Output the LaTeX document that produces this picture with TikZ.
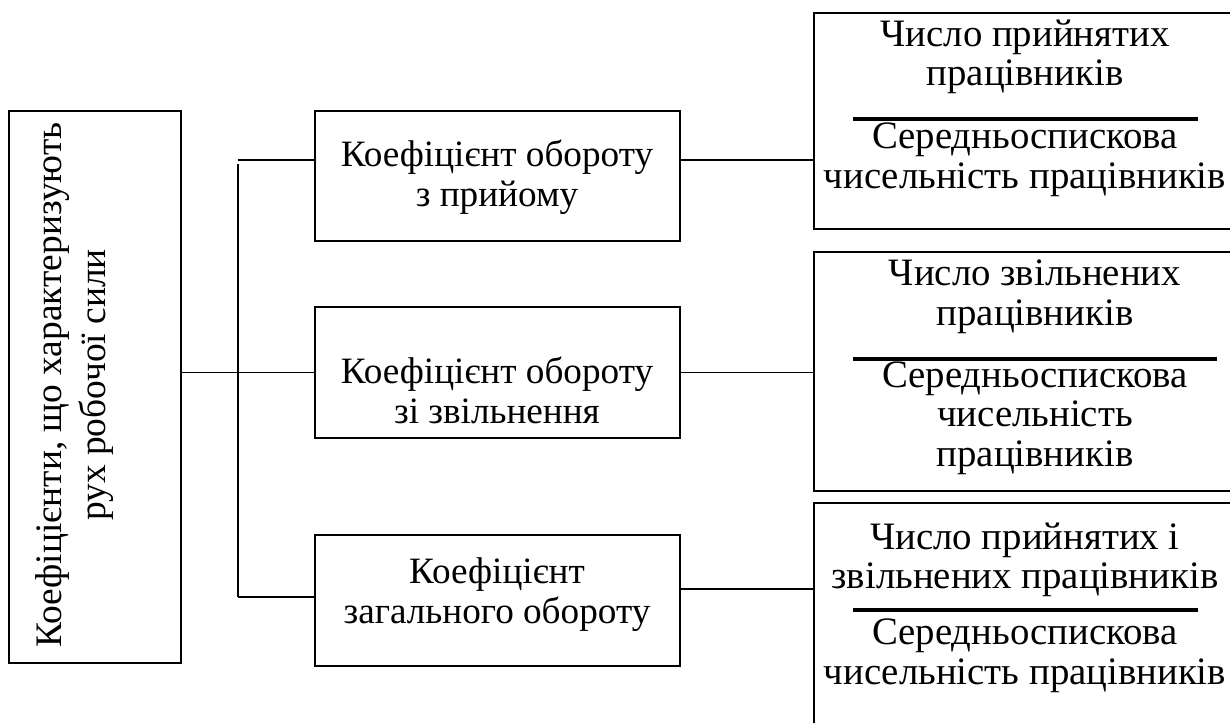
\documentclass[tikz,border=0pt]{standalone}
\usepackage{fontspec}
\setmainfont{Liberation Serif}
\usepackage{tikz}
\usetikzlibrary{positioning}
\tikzset{ box/.style = {rectangle, draw, line width=1pt, inner sep=0pt, anchor=north west} }
\tikzset{ txt/.style = {align=center, inner sep=0pt, font=\fontsize{19.4}{19.8}\selectfont} }
\tikzset{ midtxt/.style = {txt, font=\fontsize{18.6}{20}\selectfont} }
\tikzset{ link/.style = {line width=0.8pt} }
\tikzset{ ratio/.style = {line width=2pt} }

\begin{document}
\begin{tikzpicture}[x=0.5pt, y=-0.5pt]
        \useasboundingbox (0,0) rectangle (1230,722);
        \clip (0,0) rectangle (1230,722);
                % boxes
                \node [box, minimum width=86pt, minimum height=276pt] (lead) at (8,110) {};
                \node [box, minimum width=182.5pt, minimum height=65pt] (k1) at (314,110) {};
                \node [box, minimum width=182.5pt, minimum height=65.5pt] (k2) at (314,306) {};
                \node [box, minimum width=182.5pt, minimum height=65.5pt] (k3) at (314,534) {};
                \node [box, minimum width=218.5pt, minimum height=108pt] (r1) at (813,12) {};
                \node [box, minimum width=218.5pt, minimum height=119.5pt] (r2) at (813,251) {};
                \node [box, minimum width=218.5pt, minimum height=129pt] (r3) at (813,502) {};
                % texts
                \node [txt, rotate=90, font=\fontsize{18.7}{22}\selectfont] (leadtext) at (75,385) {Коефіцієнти, що характеризують\\рух робочої сили};
                \node [midtxt] (k1text) at (497,177) {Коефіцієнт обороту\\з прийому};
                \node [midtxt] (k2text) at (497,390) {Коефіцієнт обороту\\зі звільнення};
                \node [midtxt] (k3text) at (497,595) {Коефіцієнт\\загального обороту};
                \node [txt] (r1num) at (1025,57) {Число прийнятих\\працівників};
                \node [txt] (r1den) at (1025,160) {Середньоспискова\\чисельність працівників};
                \node [txt] (r2num) at (1035,297) {Число звільнених\\працівників};
                \node [txt] (r2den) at (1035,418) {Середньоспискова\\чисельність\\працівників};
                \node [txt] (r3num) at (1025,560) {Число прийнятих і\\звільнених працівників};
                \node [txt] (r3den) at (1025,656) {Середньоспискова\\чисельність працівників};
                \draw[ratio] (853,119) -- (1198,119);
                \draw[ratio] (853,359) -- (1217,359);
                \draw[ratio] (853,610) -- (1198,610);
                % connectors
                \coordinate (j1) at (238,160);
                \coordinate (j0) at (238,164);
                \coordinate (j3) at (238,597);
                \coordinate (s3) at (680,589);
                \draw[link] (lead.east |- k2.west) -- (k2.west);
                \draw[link] (j0) -- (j3);
                \draw[link] (j1) -- (j1 -| k1.west);
                \draw[link] (j3) -- (j3 -| k3.west);
                \draw[link] (k1.east |- j1) -- (j1 -| r1.west);
                \draw[link] (k2.east) -- (k2.east -| r2.west);
                \draw[link] (s3 -| k3.east) -- (s3 -| r3.west);
        \end{tikzpicture}
\end{document}
